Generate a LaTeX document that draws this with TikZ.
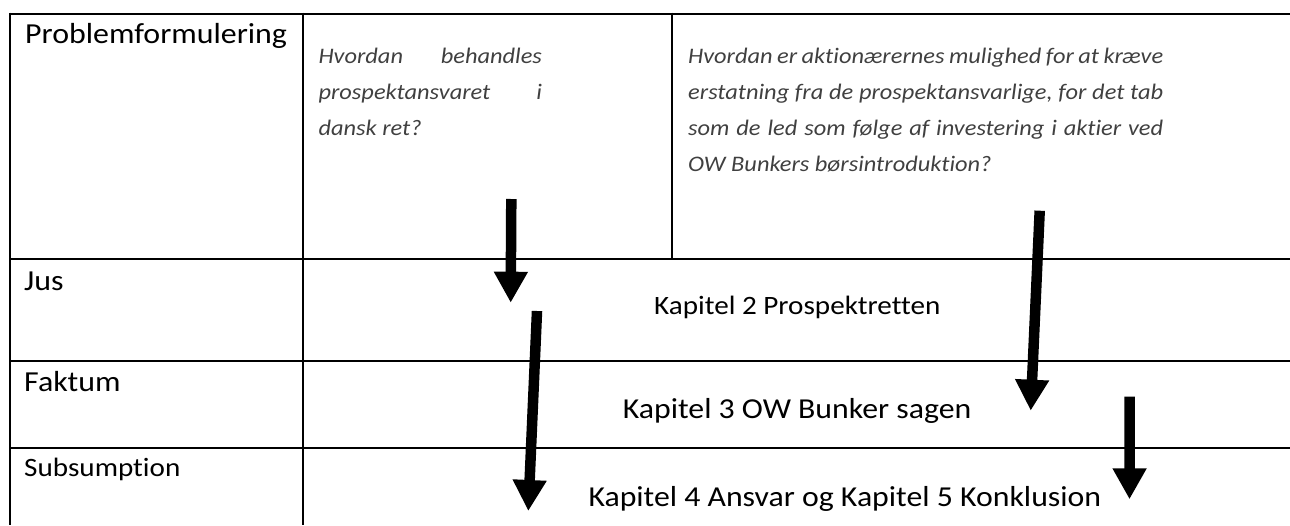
\documentclass[tikz,border=0pt]{standalone}
\usepackage{fontspec}
\setmainfont{Carlito}[FakeStretch=1.1, Ligatures={NoCommon}]
\usetikzlibrary{arrows.meta}
\definecolor{qgray}{RGB}{64,64,64}
\begin{document}
\begin{tikzpicture}[x=1pt,y=-1pt,
  grid/.style={line width=2pt},
  lbl/.style={anchor=base west, inner sep=0pt, font=\fontsize{29}{34}\selectfont},
  chap/.style={anchor=base west, inner sep=0pt},
  qtext/.style={anchor=base west, inner sep=0pt, text=qgray, font=\itshape\fontsize{22.2}{26}\selectfont},
  bigarrow/.style={line width=10.5pt, -{Triangle[width=32pt,length=31pt]}}
]
\useasboundingbox (0,0) rectangle (1290,525);
% table grid
\draw[grid] (9,13.5) -- (1290,13.5);
\draw[grid] (9,259) -- (1290,259);
\draw[grid] (9,360.7) -- (1290,360.7);
\draw[grid] (9,448) -- (1290,448);
\draw[grid] (10,12.5) -- (10,525);
\draw[grid] (303,12.5) -- (303,525);
\draw[grid] (672,12.5) -- (672,259);
% row labels
\node[lbl] (pf) at (25,43.3) {Problemformulering};
\node[lbl] (jus) at (24,290.5) {Jus};
\node[lbl] (fak) at (24,391.7) {Faktum};
\node[lbl, font=\fontsize{26.5}{32}\selectfont] (sub) at (24,476) {Subsumption};
% questions
\node[qtext] (q1a) at (318.3,63.5) {\makebox[223.5pt][s]{Hvordan behandles}};
\node[qtext] (q1b) at (318.3,99.5) {\makebox[223.5pt][s]{prospektansvaret i}};
\node[qtext] (q1c) at (318.3,135.5) {dansk ret?};
\node[qtext] (q2a) at (688,63.5) {\makebox[475pt][s]{Hvordan er aktionærernes mulighed for at kræve}};
\node[qtext] (q2b) at (688,99.5) {\makebox[475pt][s]{erstatning fra de prospektansvarlige, for det tab}};
\node[qtext] (q2c) at (688,135.5) {\makebox[475pt][s]{som de led som følge af investering i aktier ved}};
\node[qtext] (q2d) at (688,171.5) {OW Bunkers børsintroduktion?};
% chapters
\node[chap, font=\fontsize{26.5}{32}\selectfont] (k2) at (654,314) {Kapitel 2 Prospektretten};
\node[chap, font=\fontsize{28.9}{34}\selectfont] (k3) at (622.7,418.3) {Kapitel 3 OW Bunker sagen};
\node[chap, font=\fontsize{28.9}{34}\selectfont] (k4) at (588.3,506) {Kapitel 4 Ansvar og Kapitel 5 Konklusion};
% arrows
\coordinate (a1s) at (511.3,199);   \coordinate (a1e) at (510.7,302.7);
\coordinate (a2s) at (537,311);     \coordinate (a2e) at (528.3,511);
\coordinate (a3s) at (1039.7,210.7); \coordinate (a3e) at (1030.7,410.7);
\coordinate (a4s) at (1129.7,396.7); \coordinate (a4e) at (1129.5,499.3);
\draw[bigarrow] (a1s) -- (a1e);
\draw[bigarrow] (a2s) -- (a2e);
\draw[bigarrow] (a3s) -- (a3e);
\draw[bigarrow] (a4s) -- (a4e);
\end{tikzpicture}
\end{document}
